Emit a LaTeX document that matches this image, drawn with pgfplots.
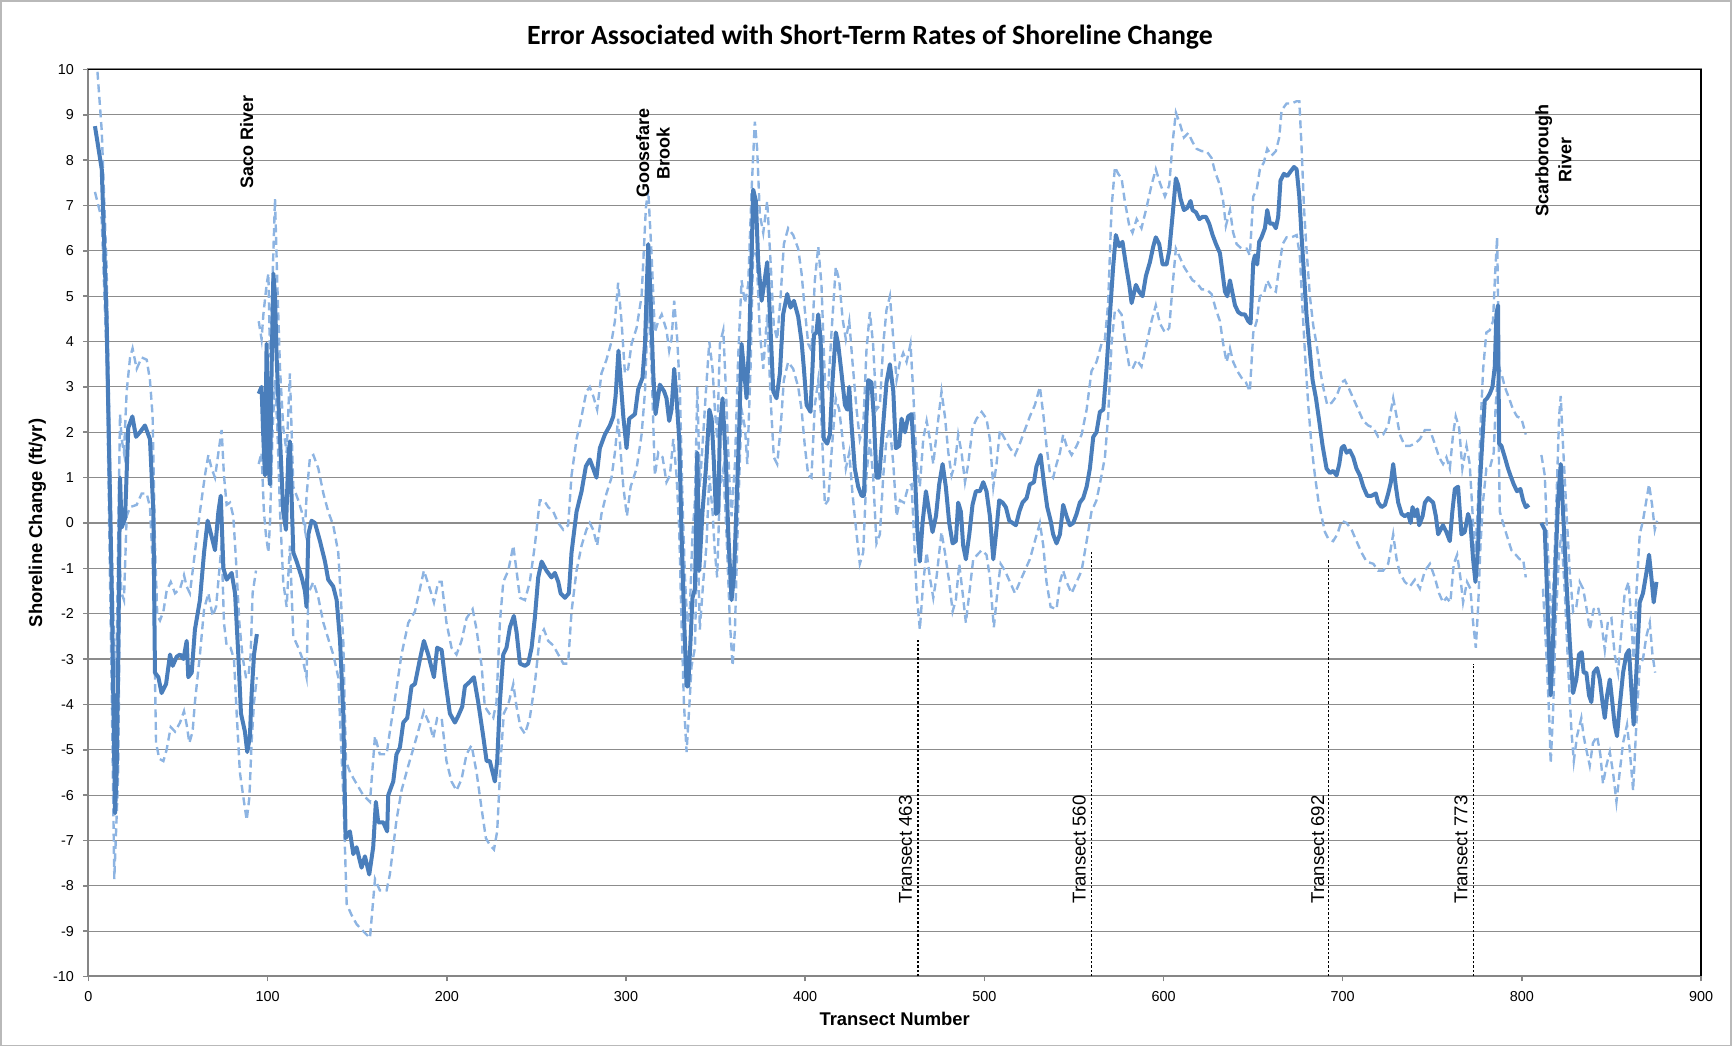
\documentclass[border=0pt]{standalone}
\usepackage{pgfplots}
\pgfplotsset{compat=1.18}
\usepackage{fontspec}
\setmainfont{Liberation Sans}
\newfontfamily\titlefont{Carlito}
\definecolor{mainblue}{HTML}{4A7EBB}
\definecolor{lightblue}{HTML}{8DB4E2}
\definecolor{gridgray}{HTML}{8C8C8C}
\definecolor{axisgray}{HTML}{868686}

\begin{document}
\begin{tikzpicture}
\useasboundingbox (-44.25pt,-35.25pt) rectangle (821.75pt,488.25pt);
\draw[gray!55, line width=0.8pt] (-43.6pt,-34.6pt) rectangle (821.1pt,487.6pt);
\begin{axis}[
  width=806.25pt, height=453.5pt, scale only axis,
  xmin=0, xmax=900, ymin=-10, ymax=10,
  xtick distance=100, ytick distance=1,
  tick pos=left, tick align=outside, major tick length=2.5pt,
  tick style={axisgray, line width=0.8pt},
  axis line style={axisgray, line width=1pt},
  ymajorgrids, grid style={gridgray, line width=0.55pt},
  ticklabel style={font=\fontsize{7.2}{8}\selectfont},
  yticklabel style={xshift=-1.3pt},
  xticklabel style={yshift=-1.4pt},
  /pgf/number format/assume math mode=true,
  unbounded coords=jump,
  clip=false,
]
% upper error bound
\addplot[lightblue, line width=1.2pt, dash pattern=on 4pt off 2.3pt] coordinates {
(5,9.95) (7.4,8.65) (10.1,5.65) (12.9,-0.5) (14.8,-3.4) (15.7,-3.0) (16.6,-0.25) (17.6,2.4) (18.5,1.85) (19.8,1.55) (21.3,2.9) (23.2,3.65) (24.6,3.85) (26.9,3.4) (29.7,3.65) (32.5,3.6) (34.3,3.15) (35.8,2.35) (37.1,-0.5) (38.4,-2.05) (39.9,-2.15) (41.8,-1.95) (43.6,-1.5) (45.9,-1.3) (48.3,-1.55) (51.1,-1.45) (53.3,-1.15) (54.8,-1.4) (56.6,-1.55) (59.4,-0.65) (62.2,0.25) (65,1.05) (66.9,1.5) (68.7,1.2) (70.6,1.0) (72.5,1.55) (74.3,2.05) (75.6,1.05) (77.1,0.4) (79,0.45) (80.8,0.15) (82.3,-0.8) (84.2,-2.2) (86,-2.95) (87.9,-3.4) (89.2,-3.4) (90.5,-2.9) (91.6,-1.55) (93.5,-1.05)
(94.5,nan)
(95,4.45) (96.6,4.05) (97.6,4.6) (99.4,5.25) (100.4,5.5) (101.3,3.65) (102.2,4.7) (104.1,7.15) (105.4,5.25) (106.9,3.4) (108.7,2.1) (110.6,1.55) (112.4,3.3) (114.3,0.8) (117.1,0.5) (119,0.25) (120.8,-0.15) (121.7,0.6) (123.6,1.45) (125.5,1.5) (128.3,1.2) (131.1,0.65) (133.8,0.25) (136.6,-0.05) (139.4,-0.65) (142.2,-2.6) (143.7,-5.25) (146,-5.5) (149.6,-5.75) (153.3,-6.0) (157.1,-6.15) (159.9,-4.7) (162.6,-5.1) (166.4,-5.1) (168.2,-4.6) (171.9,-3.65) (174.7,-2.9) (178.5,-2.2) (182.2,-1.95) (185,-1.45) (187.2,-1.05) (190.5,-1.45) (192.8,-1.75) (195.2,-1.3) (197.1,-1.3) (199.8,-2.2) (202.6,-2.75) (205.4,-2.9) (208.2,-2.6) (211,-2.1) (214.4,-1.9) (216.6,-2.35) (219.4,-3.15) (221.2,-4.05) (223.7,-4.2) (225.9,-4.3) (227.7,-3.95) (229.6,-2.2) (231.5,-1.3) (234.3,-1.05) (237.1,-0.5) (238.9,-1.05) (240.8,-1.65) (243.6,-1.7) (246.3,-1.3) (249.1,-0.5) (251.9,0.5) (254.2,0.5) (256.6,0.35) (259.4,0.25) (262.2,0) (265,-0.15) (267.7,-0.05) (269.6,1.05) (272.4,1.85) (275.2,2.35) (277.9,2.9) (279.8,3.0) (281.7,2.8) (283.9,2.5) (286.3,3.3) (289.1,3.6) (291.9,4.0) (293.8,4.45) (295.6,5.3) (297.5,4.45) (299.4,3.3) (301.2,3.4) (303.1,3.95) (305.9,4.3) (308.7,5.0) (311.1,6.95) (312.4,7.35) (314.3,5.9) (316.1,4.2) (318,4.45) (319.9,4.6) (322.6,4.25) (324.1,3.8) (325.4,4.05) (326.9,4.9) (328.6,4.05) (330.1,2.9) (331.6,0.4) (332.9,-1.2) (334.2,-2.2) (335.7,-1.85) (337.1,-0.25) (338.5,0.5) (339.8,3.0) (341.2,0.8) (343.1,1.95) (344.6,2.9) (346.5,4.0) (348.3,3.4) (349.6,2.5) (350.9,1.85) (352.4,3.95) (354.3,4.25) (355.8,2.9) (357.6,1.05) (358.9,0.15) (360.8,1.3) (362.6,3.65) (364.5,5.35) (366.4,4.85) (368.2,5.25) (370.1,7.35) (371.9,8.85) (373.2,8.25) (374.7,6.8) (376.6,6.4) (378.8,7.1) (380.7,5.75) (382.5,4.35) (384.4,4.05) (386.3,5.0) (388.1,6.15) (390.5,6.5) (393.3,6.35) (396.1,6.05) (398,5.5) (399.8,4.7) (401.7,3.95) (403.5,3.8) (405.4,5.35) (407.3,6.1) (409.1,5.25) (411,3.15) (412.9,3.0) (414.7,4.2) (417.1,5.65) (419,5.35) (420.9,4.5) (422.7,4.05) (424.6,4.45) (426.4,3.55) (428.7,2.5) (430.5,1.85) (432.4,2.1) (434.2,3.8) (436.1,4.65) (437.9,3.95) (439.8,2.5) (441.7,2.6) (443.6,3.95) (445.4,4.7) (447.3,5.0) (449.2,4.05) (451,3.15) (452.9,3.55) (454.7,3.75) (456.6,3.55) (458.8,3.95) (460.3,2.9) (462.2,1.3) (464,0.8) (465.9,1.85) (467.8,2.25) (469.6,1.85) (471.5,1.3) (473.3,1.95) (476.1,2.9) (478,2.35) (479.9,1.55) (481.7,1.05) (483.6,1.3) (485.4,1.95) (487.3,1.55) (489.2,0.9) (491,1.3) (493.4,2.1) (495.7,2.3) (498.5,2.45) (501.2,2.3) (503.1,1.85) (505,0.8) (506.8,1.3) (508.7,2.05) (511.5,1.85) (514.3,1.65) (517.1,1.5) (519.8,1.75) (522.6,2.05) (525.4,2.35) (528.2,2.6) (531,3.0) (532.9,2.4) (534.7,1.7) (536.6,1.1) (538.4,1.0) (540.3,1.3) (542.2,1.55) (544,1.95) (545.9,1.7) (548.7,1.5) (551.5,1.7) (554.3,1.95) (557.1,2.5) (559.8,3.35) (562.6,3.55) (565.4,3.95) (567.3,4.05) (569.1,4.85) (571,6.95) (572.9,7.85) (574.7,7.7) (576.6,7.6) (578.4,7.1) (580.9,6.55) (582.7,6.4) (585,6.7) (587.7,6.5) (590.5,6.95) (593.3,7.45) (595.7,7.8) (598,7.5) (600.8,7.2) (603.2,7.45) (605.1,8.4) (606.9,9.05) (609.2,8.8) (611.4,8.5) (613.8,8.6) (616.2,8.4) (618.5,8.25) (621.3,8.2) (624,8.2) (626.8,8.05) (628.7,7.75) (631.5,7.45) (633.3,7.1) (634.8,6.55) (637.1,6.9) (638.9,6.4) (640.8,6.15) (643.6,6.05) (646.4,6.05) (648.2,5.9) (650.1,7.2) (652,7.35) (653.8,7.8) (656,7.95) (657.9,8.25) (660.3,8.1) (662.7,8.2) (664.6,8.5) (665.9,9.1) (668.7,9.25) (671.5,9.25) (674.3,9.3) (675.8,9.3) (677.1,8.25) (678.4,6.95) (679.8,6.05) (681.7,5.0) (683.6,4.35) (685.4,3.95) (687.3,3.4) (689.1,3.0) (691.4,2.6) (693.8,2.65) (696.6,2.8) (699.4,3.1) (701.2,3.15) (703.1,3.0) (705.9,2.75) (708.7,2.5) (711.5,2.25) (714.3,2.15) (717.1,2.1) (719.8,1.9) (722.6,1.95) (725.4,2.15) (728.2,2.75) (730.1,2.35) (731.9,1.95) (734.7,1.7) (737.5,1.7) (740.3,1.75) (743.1,1.85) (745.9,2.05) (748.7,2.05) (751.4,1.75) (753.8,1.45) (756,1.3) (757.9,1.45) (759.8,1.2) (761.6,1.95) (763.1,2.35) (765,2.1) (766.8,1.2) (769.1,1.7) (770.9,1.3) (772.8,0) (774.1,-0.65) (775.6,0.5) (776.9,2.1) (778.4,3.4) (780.2,4.2) (782.1,4.25) (783.9,4.45) (785.1,5.5) (786.2,6.3) (787.3,3.4) (788.6,3.3) (790.5,3.0) (792.9,2.75) (795.1,2.5) (797.3,2.35) (799.8,2.3) (802.2,1.95)
(806,nan)
(810.9,1.5) (812.8,1.05) (814.1,-0.25) (815.6,-1.55) (816.5,-2.35) (817.8,-1.2) (819.3,0.5) (820.8,2.35) (821.7,2.8) (823,1.7) (824.9,0.25) (826.7,-1.05) (828.6,-1.95) (830.4,-1.85) (832.3,-1.3) (834.2,-1.45) (836,-1.85) (837.9,-2.35) (840.1,-1.9) (842.5,-1.85) (844.4,-2.2) (846.3,-2.8) (848.1,-2.15) (850,-2.1) (851.8,-2.9) (853.7,-3.3) (855.6,-2.35) (857.4,-1.55) (859.6,-1.3) (861.1,-2.2) (862.4,-3.0) (863.9,-1.55) (865.8,-0.25) (867.6,0.05) (869.5,0.5) (871,0.85) (872.7,0.4) (874.2,-0.15) (875.5,0.05)
};
% lower error bound
\addplot[lightblue, line width=1.2pt, dash pattern=on 4pt off 2.3pt] coordinates {
(3.6,7.3) (7.4,6.7) (10.1,3.65) (12.9,-3.55) (14.4,-7.85) (15.4,-6.8) (16.6,-5.5) (17.6,-1.05) (18.5,-1.55) (19.8,-1.7) (21.3,0.15) (23.2,0.35) (26.9,0.4) (29.7,0.65) (32.5,0.65) (34.3,0.35) (36.2,-1.2) (37.7,-4.85) (39.5,-5.2) (41.8,-5.25) (43.6,-5.0) (45.9,-4.5) (48.3,-4.6) (51.1,-4.4) (53.3,-4.15) (54.8,-4.45) (56.3,-4.85) (58.1,-4.6) (59.4,-3.95) (62.2,-2.9) (64.5,-1.9) (66.9,-1.55) (69.3,-2.05) (71.2,-1.85) (73,-1.05) (74.3,-0.45) (75.6,-2.2) (77.1,-2.7) (79.3,-2.75) (81.2,-3.0) (82.7,-4.2) (84.5,-5.5) (86.8,-6.15) (88.3,-6.55) (89.8,-6.05) (91,-4.85) (92.4,-3.95) (94,-3.4)
(94.5,nan)
(95,1.3) (96.6,1.55) (97.9,0.25) (99,-0.25) (100.4,-0.65) (101.3,0) (102.8,2.1) (104.1,3.15) (105.4,2.1) (106.9,0.25) (108.7,-1.3) (110.6,-1.85) (112.4,-0.5) (114.3,-2.5) (117.1,-2.75) (119.5,-3.0) (121.7,-3.4) (122.7,-1.55) (125.5,-1.3) (128.3,-1.65) (131.1,-2.2) (133.8,-2.55) (136.6,-2.9) (139.4,-3.4) (142.2,-6.0) (144.1,-8.4) (146.9,-8.65) (149.7,-8.85) (153.3,-9.0) (157.1,-9.15) (159.9,-7.85) (162.6,-8.1) (166.4,-8.1) (168.2,-7.75) (171.9,-6.55) (174.7,-5.9) (178.5,-5.35) (182.2,-4.85) (185,-4.45) (187.2,-4.15) (190.5,-4.45) (192.4,-4.75) (194.6,-4.3) (197.1,-4.3) (199.8,-5.25) (202.6,-5.7) (205.4,-5.9) (208.2,-5.65) (211,-5.1) (213.8,-4.9) (216.6,-5.5) (219.4,-6.3) (221.8,-6.95) (224,-7.1) (226.3,-7.2) (228.1,-6.8) (230,-5.25) (231.8,-4.2) (234.3,-4.0) (237.1,-3.55) (238.9,-4.05) (241.1,-4.5) (243.6,-4.65) (246.3,-4.3) (249.1,-3.55) (251.9,-2.5) (254.2,-2.35) (256.6,-2.6) (259.4,-2.7) (262.2,-2.9) (265,-3.1) (267.7,-3.1) (269.6,-1.95) (272.4,-1.05) (275.2,-0.5) (277.9,-0.15) (279.8,0) (281.7,-0.15) (283.9,-0.5) (286.3,0.2) (289.1,0.65) (291.9,1.0) (293.8,1.55) (295.6,2.3) (297.5,1.3) (298.5,0.8) (300.5,0.15) (302.6,0.8) (305.9,1.2) (308.7,1.95) (310.6,2.9) (312.4,5.0) (314.3,3.4) (316.1,1.05) (318,1.55) (320.4,1.45) (322.6,0.9) (324.5,1.05) (326.4,1.85) (328.2,1.05) (329.7,-0.15) (331,-2.2) (332.3,-3.95) (333.8,-5.05) (335.1,-4.2) (336.6,-3.15) (338.5,-2.75) (339.8,0) (341.2,-2.35) (343.1,-1.3) (344.9,-0.5) (346.5,1.05) (348.3,0.25) (349.6,-0.65) (350.9,-1.2) (352.4,0.8) (354.3,1.2) (356.1,-0.25) (358,-2.2) (359.5,-3.15) (360.8,-2.35) (362.6,0.25) (364.5,2.5) (366.4,2.1) (367.7,1.3) (369.5,3.4) (371,6.05) (372.9,5.9) (374.7,4.2) (376.6,3.4) (378.8,4.6) (380.7,2.75) (382.5,1.45) (384.4,1.3) (386.3,2.1) (388.1,3.15) (390.5,3.55) (393.3,3.4) (396.1,3.0) (398,2.5) (399.8,1.7) (401.7,1.05) (403.5,1.0) (405.4,2.6) (407.3,3.15) (409.1,2.25) (411,0.4) (412.9,0.5) (414.7,1.55) (417.1,2.75) (419,2.5) (420.9,1.85) (422.7,1.2) (424.6,1.55) (426.4,0.65) (428.7,-0.25) (430.5,-0.9) (432.4,-0.65) (434.2,1.05) (436.1,1.85) (437.9,1.05) (439.8,-0.45) (441.7,-0.25) (443.6,1.05) (445.4,1.85) (447.3,2.1) (449.2,1.3) (451,0.15) (452.9,0.5) (455.1,0.45) (457.5,0.8) (459.4,0.85) (460.7,-0.25) (462.2,-1.55) (464,-2.35) (465.9,-1.3) (467.8,-0.65) (469.6,-1.2) (471.5,-1.65) (473.3,-1.2) (476.1,-0.2) (478,-0.65) (480.4,-1.3) (482.3,-1.95) (484.1,-1.7) (486,-0.9) (487.9,-1.55) (489.7,-2.2) (491.6,-1.55) (493.8,-0.8) (496.1,-0.7) (498.5,-0.6) (501.2,-0.7) (503.1,-1.2) (505.3,-2.3) (507.2,-1.55) (509.1,-0.9) (511.5,-1.05) (514.3,-1.3) (517.1,-1.55) (519.8,-1.3) (522.6,-1.05) (525.4,-0.8) (528.2,-0.4) (531,0) (532.9,-0.5) (534.7,-1.3) (537,-1.85) (540.3,-1.9) (542.2,-1.3) (544,-1.05) (545.9,-1.3) (548.7,-1.55) (551.5,-1.3) (554.3,-1.05) (557.1,-0.4) (559.8,0.25) (562.6,0.5) (565.4,1.05) (567.3,1.45) (569.1,2.35) (571,3.95) (572.9,4.7) (574.7,4.7) (576.6,4.6) (578.4,4.05) (580.9,3.45) (582.7,3.4) (585,3.6) (587.7,3.45) (590.5,3.95) (593.3,4.45) (595.7,4.8) (598,4.4) (600.8,4.2) (603.2,4.3) (605.1,5.25) (606.9,6.05) (609.2,5.85) (611.4,5.65) (613.8,5.5) (616.2,5.35) (618.5,5.3) (621.3,5.15) (624,5.15) (626.8,5.05) (629.3,4.7) (631.5,4.45) (633.3,3.95) (635.2,3.55) (637.1,3.85) (638.9,3.55) (641.2,3.35) (643.6,3.2) (646,3.1) (648.2,2.9) (650.1,4.2) (652,4.45) (653.8,5.0) (656,5.05) (657.9,5.35) (660.3,5.15) (662.7,5.1) (664.6,5.65) (666.5,6.15) (668.7,6.3) (671.5,6.3) (674.3,6.35) (676.1,5.9) (677.6,4.7) (679.1,3.65) (680.8,2.6) (682.6,1.7) (684.5,1.05) (686.4,0.5) (688.2,0.15) (690.1,-0.2) (692,-0.35) (694.7,-0.4) (697,-0.25) (699.4,0.05) (702.2,0) (705,-0.15) (707.7,-0.4) (710.5,-0.65) (713.3,-0.85) (717.1,-0.9) (719.8,-1.05) (722.6,-1.05) (725.4,-0.9) (728.2,-0.25) (730.1,-0.8) (731.9,-1.1) (734.7,-1.3) (737.5,-1.4) (740.3,-1.25) (743.1,-1.45) (745.9,-1.05) (748.7,-0.9) (751.4,-1.2) (753.8,-1.55) (756,-1.75) (757.9,-1.65) (760.1,-1.75) (762,-0.9) (763.9,-0.7) (765.7,-1.2) (767.2,-1.75) (769.4,-1.3) (771.3,-1.45) (772.8,-2.2) (774.3,-2.75) (775.6,-1.85) (776.9,-0.5) (778.4,0.5) (780.2,1.2) (782.1,1.2) (784.3,1.55) (785.4,2.6) (786.5,3.15) (787.7,0.25) (789.5,0) (791.8,-0.3) (794.2,-0.6) (796.6,-0.7) (798.8,-0.8) (800.7,-0.8) (802.2,-1.2)
(806,nan)
(811.8,-1.45) (813.7,-2.9) (815.2,-4.2) (816.1,-5.3) (817.4,-4.2) (818.9,-2.2) (820.8,-0.65) (822.1,-0.25) (824,-1.55) (825.8,-3.15) (827.7,-4.6) (829,-5.25) (830.8,-4.7) (833.2,-4.3) (834.5,-4.7) (836,-5.0) (837.9,-5.35) (839.7,-4.85) (842,-4.7) (843.8,-5.1) (845.3,-5.75) (847.2,-5.35) (849.1,-5.05) (850.9,-5.5) (852.8,-6.15) (854.6,-5.5) (856.5,-4.85) (858.7,-4.45) (860.2,-5.0) (862.1,-5.9) (863.9,-4.45) (865.8,-3.15) (867.6,-3.0) (869.5,-2.5) (871.4,-2.2) (872.9,-2.9) (874.4,-3.3)
};
% short-term rate
\addplot[mainblue, line width=2pt, line join=round] coordinates {
(3.6,8.75) (7.4,7.8) (10.1,4.5) (12.9,-1.3) (14.8,-6.4) (15.7,-5.5) (16.6,-3.0) (17.6,1.0) (18.5,-0.1) (20.4,0.1) (22.2,2.1) (24.5,2.35) (26.5,1.9) (28.7,2.0) (31.5,2.15) (34.3,1.85) (36.2,0.25) (37.1,-3.3) (39,-3.4) (40.8,-3.75) (43.3,-3.55) (45.5,-2.9) (47,-3.15) (49.2,-2.95) (51.1,-2.9) (53,-3.0) (54.8,-2.6) (55.7,-3.4) (57.6,-3.3) (59.4,-2.35) (62.2,-1.7) (64.5,-0.65) (66.5,0.05) (68.4,-0.25) (70.6,-0.6) (72.5,0.25) (73.8,0.6) (75.3,-1.0) (77.1,-1.25) (79.9,-1.1) (81.8,-1.55) (83.6,-2.9) (85.1,-4.2) (87.3,-4.6) (88.6,-5.05) (90.1,-4.7) (91,-3.8) (92.4,-2.9) (94,-2.45)
(94.5,nan)
(95,2.85) (96.6,3.0) (97.6,1.85) (98.5,1.05) (99.4,3.95) (100.4,1.3) (101.3,0.85) (102.2,3.4) (103.2,5.5) (104.1,5.0) (105,3.65) (106.9,1.85) (108.7,0.25) (110.2,-0.15) (111.5,1.45) (112.4,1.8) (114.3,-0.65) (116.2,-0.85) (119,-1.2) (120.8,-1.5) (121.7,-1.85) (122.7,-0.25) (124.5,0.05) (126.4,0) (129.2,-0.4) (132,-0.85) (133.8,-1.25) (136.6,-1.4) (138.5,-1.7) (140.4,-2.6) (142.2,-4.2) (143.5,-6.95) (145.9,-6.8) (147.8,-7.3) (149.6,-7.15) (152.4,-7.6) (154.3,-7.35) (156.7,-7.75) (158.9,-7.15) (160.4,-6.15) (161.7,-6.6) (164.5,-6.6) (166.7,-6.8) (167.3,-6.0) (170.1,-5.7) (171.9,-5.1) (173.8,-4.95) (175.7,-4.4) (177.9,-4.3) (180.3,-3.6) (182.2,-3.55) (185,-3.0) (187.2,-2.6) (189.6,-2.9) (192.8,-3.4) (194.6,-2.75) (197.1,-2.8) (198.9,-3.4) (201.7,-4.2) (204.5,-4.4) (206.4,-4.25) (208.6,-4.05) (210.1,-3.6) (212.9,-3.5) (215.1,-3.4) (217.5,-3.95) (220.3,-4.7) (222.2,-5.25) (224,-5.25) (226.8,-5.7) (228.1,-5.25) (229.6,-3.95) (231.5,-2.9) (233.3,-2.75) (235.2,-2.3) (237.4,-2.05) (238.9,-2.4) (240.8,-3.1) (243.6,-3.15) (245.4,-3.1) (247.3,-2.75) (249.1,-2.1) (251,-1.2) (252.9,-0.85) (255.6,-1.05) (258.4,-1.2) (260.3,-1.1) (262.2,-1.3) (263.5,-1.55) (265.9,-1.65) (268.1,-1.55) (269.6,-0.65) (272.4,0.25) (275.2,0.7) (277.6,1.25) (279.8,1.4) (281.7,1.2) (283.5,1.0) (285.4,1.65) (288.2,1.95) (291,2.15) (292.9,2.35) (294.2,2.8) (295.8,3.8) (298.5,2.35) (300.3,1.65) (301.8,2.3) (305,2.4) (306.8,2.95) (309.2,3.2) (310.6,3.95) (312.4,6.15) (313.7,5.0) (315.2,3.3) (316.5,2.4) (318.9,3.05) (321.3,2.9) (322.6,2.75) (324.1,2.25) (325.4,2.5) (326.9,3.4) (328.2,2.75) (329.7,1.85) (331,-0.25) (332.5,-2.2) (333.8,-3.6) (334.7,-3.6) (336,-2.6) (337.1,-1.65) (338.5,-1.45) (339.8,1.55) (340.9,-1.05) (342.7,0.25) (344.6,1.2) (346.5,2.5) (347.8,2.3) (349.1,1.3) (350.2,0.2) (351.5,0.25) (352.4,2.1) (353.9,2.75) (355.8,1.3) (357.1,-0.25) (358.9,-1.7) (360.2,-1.2) (361.7,0.4) (363.2,2.1) (364.5,3.95) (365.8,3.4) (367.3,2.75) (368.8,4.05) (370.1,5.9) (371,7.35) (372.5,7.1) (373.8,5.75) (374.7,5.35) (375.7,4.9) (377,5.25) (378.8,5.75) (380.3,4.6) (382.2,2.9) (384,2.75) (385.9,3.3) (387.7,4.6) (390,5.05) (391.8,4.75) (393.7,4.9) (396.1,4.55) (398,4.0) (399.3,3.4) (400.8,2.6) (403,2.45) (404.9,4.15) (406.3,4.2) (407.3,4.6) (408.6,4.05) (410.4,1.85) (412.3,1.75) (413.8,1.95) (415.3,3.15) (417.1,4.2) (418.4,3.95) (420.3,3.3) (422.2,2.6) (423.5,2.5) (424.6,3.0) (425.9,2.15) (427.7,1.2) (429.6,0.8) (431.5,0.6) (432.8,0.6) (434.2,2.35) (435.2,3.15) (437,3.1) (438.3,2.35) (439.8,1.0) (441.3,1.0) (443.6,2.2) (445.4,3.1) (447.3,3.5) (449.2,2.9) (450.6,1.65) (452.5,1.7) (453.8,2.3) (455.7,2.0) (457.5,2.35) (459.4,2.4) (461.3,1.05) (462.6,-0.15) (464,-0.85) (465.5,0) (467.4,0.7) (469.2,0.25) (471.1,-0.2) (473,0.15) (474.8,0.85) (476.7,1.3) (478.5,0.8) (480.4,0) (482.3,-0.45) (484.1,-0.4) (485.4,0.45) (486.9,0.25) (488.2,-0.5) (489.7,-0.8) (491.6,-0.25) (493.4,0.4) (495.3,0.7) (497.5,0.7) (499.4,0.9) (501.2,0.7) (503.1,0.15) (505,-0.8) (506.5,-0.25) (508.3,0.5) (510.2,0.45) (512,0.35) (513.9,0.05) (515.8,0) (517.6,-0.05) (519.5,0.25) (521.3,0.45) (523.6,0.55) (525.4,0.85) (527.7,0.9) (529.1,1.25) (531.4,1.5) (533.2,0.9) (535.1,0.35) (537,0.05) (538.4,-0.25) (540.3,-0.45) (542.2,-0.25) (544,0.4) (545.9,0.15) (547.7,-0.05) (549.6,0) (551.5,0.2) (553.3,0.45) (555.2,0.55) (557.1,0.8) (558.9,1.2) (560.8,1.9) (562.6,2.0) (564.5,2.45) (566.4,2.5) (568.2,3.4) (570.1,4.6) (571.9,5.65) (573.4,6.35) (575.3,6.1) (577.1,6.2) (579,5.7) (580.9,5.25) (582.2,4.85) (584.6,5.25) (586.4,5.1) (588.3,5.0) (590.2,5.45) (592.4,5.75) (594.3,6.1) (595.7,6.3) (597.6,6.15) (599.5,5.7) (601.7,5.7) (603.2,6.0) (605.1,6.8) (606.9,7.6) (608.2,7.45) (609.5,7.15) (611.4,6.9) (613.3,6.95) (615.1,7.1) (616.2,6.9) (618.1,6.85) (620,6.7) (621.8,6.75) (623.7,6.75) (625.5,6.6) (627.4,6.35) (629.3,6.15) (631.5,5.95) (633,5.5) (634.3,5.1) (635.6,5.0) (637.1,5.35) (638.6,5.05) (639.9,4.8) (641.7,4.65) (643.6,4.6) (645.4,4.6) (647.3,4.45) (648.6,4.4) (650.1,5.75) (651,5.9) (652.3,5.7) (653.4,6.2) (654.7,6.3) (656.6,6.5) (657.9,6.9) (659.4,6.6) (661.2,6.6) (662.7,6.5) (664,6.75) (665.3,7.55) (667.2,7.7) (669.1,7.65) (670.9,7.75) (672.8,7.85) (674.3,7.8) (675.8,7.2) (677.1,6.3) (678.4,5.5) (679.8,4.6) (681.3,3.95) (683.2,3.15) (685.1,2.75) (686.9,2.25) (688.8,1.7) (691,1.2) (692.9,1.1) (694.7,1.15) (696.6,1.05) (698.1,1.3) (699.4,1.65) (700.7,1.7) (702.2,1.55) (704,1.6) (705.9,1.45) (707.7,1.2) (709.6,1.05) (711.5,0.8) (713.7,0.6) (716.1,0.6) (718.5,0.65) (719.8,0.45) (721.7,0.35) (723.6,0.4) (725.4,0.65) (726.9,0.9) (728.2,1.3) (729.7,0.8) (731,0.45) (732.9,0.2) (734.7,0.15) (736.6,0.2) (737.9,0) (739,0.35) (740.3,0.15) (741.6,0.3) (742.7,-0.05) (744.6,0.15) (745.9,0.45) (747.7,0.55) (750.5,0.45) (752,0.15) (753.3,-0.25) (754.6,-0.15) (756,-0.05) (757.9,-0.2) (759.8,-0.4) (761.2,0.25) (762.6,0.75) (764.4,0.8) (766.3,-0.25) (768.1,-0.2) (770,0.2) (771.3,0) (772.8,-0.8) (774.1,-1.3) (775.6,-0.5) (776.5,0.8) (778,1.85) (779.3,2.7) (780.6,2.75) (782.1,2.85) (783.6,3.0) (784.9,3.45) (785.8,4.6) (786.7,4.8) (787.3,1.75) (788.6,1.7) (790.5,1.45) (792.3,1.2) (793.6,1.05) (795.5,0.85) (797.3,0.7) (799.2,0.75) (800.7,0.5) (802.2,0.35) (804,0.4)
(806,nan)
(810.9,0) (812.8,-0.15) (814.1,-1.55) (815.2,-2.9) (816.1,-3.8) (817.4,-2.6) (818.9,-0.8) (820.2,0.5) (821.7,1.3) (823,0.25) (824.9,-1.3) (826.7,-2.6) (828.6,-3.75) (830.4,-3.45) (831.9,-2.9) (833.4,-2.85) (834.5,-3.3) (836,-3.3) (837.5,-3.8) (838.8,-3.95) (840.1,-3.3) (842,-3.2) (843.5,-3.45) (845,-3.95) (846.3,-4.3) (847.6,-3.8) (849.1,-3.45) (850.5,-3.95) (851.8,-4.45) (853.1,-4.7) (854.6,-4.05) (856.5,-3.3) (858.3,-2.9) (859.8,-2.8) (861.1,-3.65) (862.4,-4.45) (863.9,-3.3) (865.8,-1.75) (867.6,-1.55) (869.5,-1.1) (871,-0.7) (872.3,-1.2) (873.6,-1.75) (875.1,-1.3)
};
% transect markers
\addplot[black, line width=0.6pt, dash pattern=on 1.2pt off 1pt] coordinates {(463,-10) (463,-2.55)};
\addplot[black, line width=0.6pt, dash pattern=on 1.2pt off 1pt] coordinates {(560,-10) (560,-0.6)};
\addplot[black, line width=0.6pt, dash pattern=on 1.2pt off 1pt] coordinates {(692,-10) (692,-0.8)};
\addplot[black, line width=0.6pt, dash pattern=on 1.2pt off 1pt] coordinates {(773,-10) (773,-3.1)};
\draw[black, line width=0.8pt] (rel axis cs:0,1) -- (rel axis cs:1,1) -- (rel axis cs:1,0);

\node[rotate=90, font=\fontsize{9.3}{11}\selectfont] at (axis cs:456,-7.2) {Transect 463};
\node[rotate=90, font=\fontsize{9.3}{11}\selectfont] at (axis cs:553,-7.2) {Transect 560};
\node[rotate=90, font=\fontsize{9.3}{11}\selectfont] at (axis cs:686,-7.2) {Transect 692};
\node[rotate=90, font=\fontsize{9.3}{11}\selectfont] at (axis cs:766,-7.2) {Transect 773};

\node[rotate=90, font=\bfseries\fontsize{9}{10.5}\selectfont] at (axis cs:88.3,8.4) {Saco River};
\node[rotate=90, align=center, font=\bfseries\fontsize{9}{10.2}\selectfont] at (axis cs:315,8.15) {Goosefare\\Brook};
\node[rotate=90, align=center, font=\bfseries\fontsize{9}{11.5}\selectfont] at (axis cs:817.7,8.0) {Scarborough\\River};
\end{axis}
\node[font=\titlefont\bfseries\fontsize{13.9}{16}\selectfont] at (390.7pt,469.5pt) {Error Associated with Short-Term Rates of Shoreline Change};
\node[font=\bfseries\fontsize{9.2}{11}\selectfont] at (403.1pt,-21pt) {Transect Number};
\node[rotate=90, font=\bfseries\fontsize{9.2}{11}\selectfont] at (-25.5pt,226.75pt) {Shoreline Change (ft/yr)};
\end{tikzpicture}
\end{document}
